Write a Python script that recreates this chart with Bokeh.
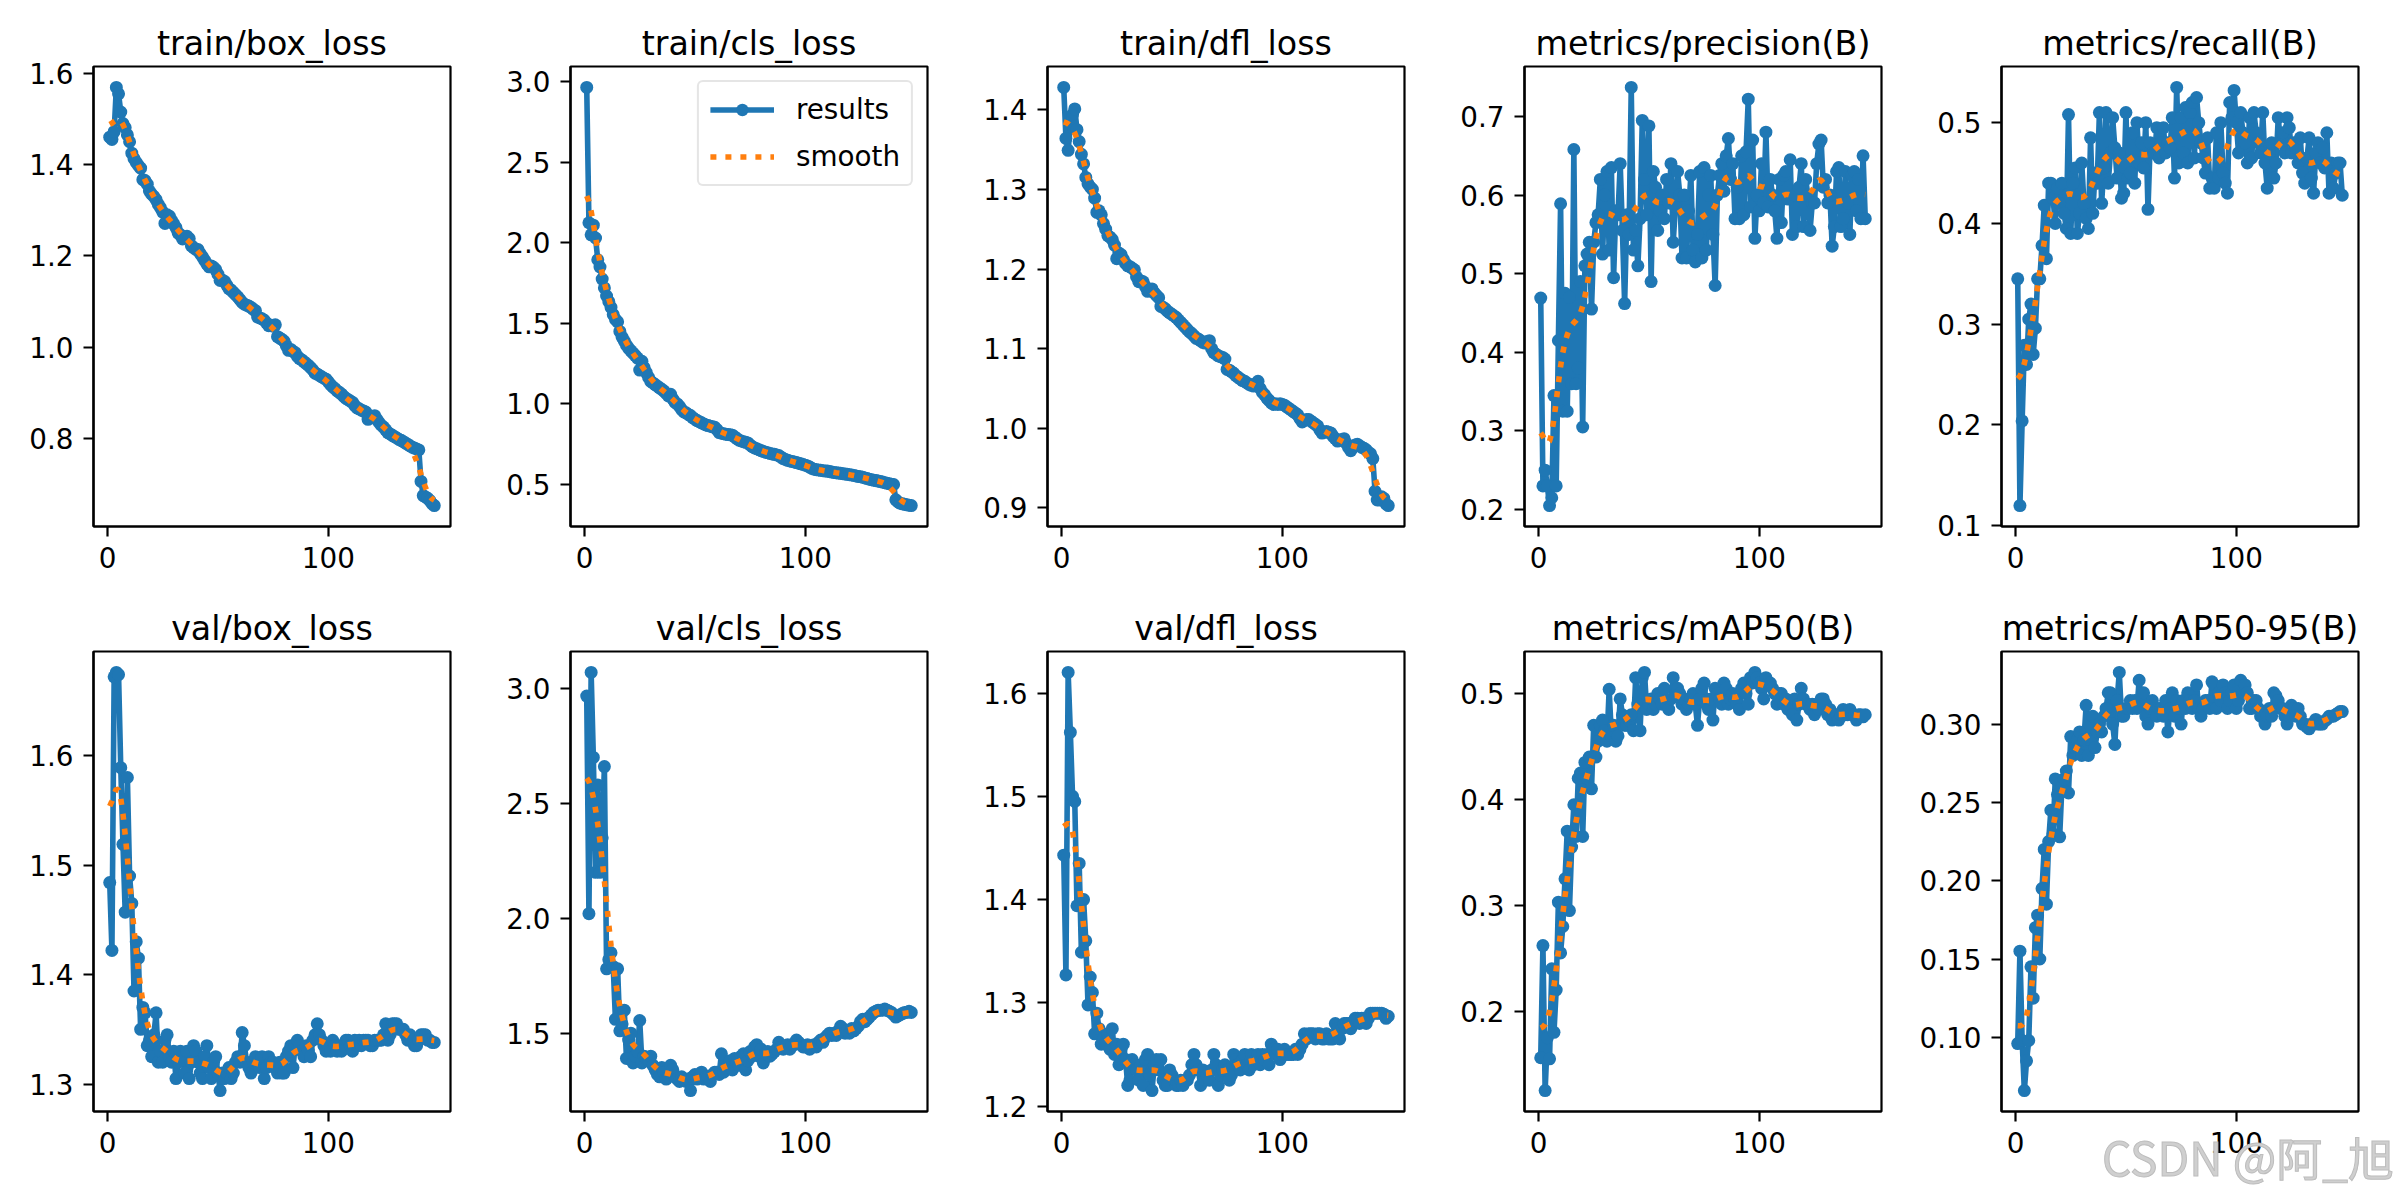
import numpy as np
from bokeh.plotting import figure
from bokeh.models import Range1d, FixedTicker, Legend, LegendItem, Div
from bokeh.layouts import row, column
from bokeh.embed import file_html
from bokeh.resources import INLINE

epochs = list(range(1, 149))

train_box_loss = [
    1.460, 1.455, 1.472, 1.569, 1.555, 1.515, 1.490, 1.481, 1.465, 1.450,
    1.425, 1.413, 1.405, 1.398, 1.392, 1.367, 1.365, 1.357, 1.342, 1.335,
    1.330, 1.323, 1.313, 1.305, 1.296, 1.271, 1.290, 1.287, 1.278, 1.270,
    1.262, 1.250, 1.246, 1.237, 1.240, 1.243, 1.238, 1.222, 1.218, 1.214,
    1.214, 1.205, 1.198, 1.190, 1.182, 1.176, 1.178, 1.175, 1.170, 1.160,
    1.146, 1.147, 1.144, 1.136, 1.128, 1.125, 1.120, 1.115, 1.110, 1.104,
    1.098, 1.094, 1.092, 1.090, 1.087, 1.083, 1.080, 1.066, 1.064, 1.062,
    1.059, 1.053, 1.047, 1.048, 1.046, 1.049, 1.023, 1.020, 1.017, 1.013,
    1.003, 0.993, 0.995, 0.991, 0.988, 0.980, 0.975, 0.972, 0.968, 0.964,
    0.960, 0.955, 0.950, 0.943, 0.941, 0.938, 0.935, 0.932, 0.930, 0.924,
    0.918, 0.913, 0.909, 0.904, 0.901, 0.897, 0.892, 0.888, 0.885, 0.882,
    0.879, 0.872, 0.867, 0.865, 0.862, 0.860, 0.858, 0.842, 0.845, 0.848,
    0.850, 0.842, 0.835, 0.829, 0.825, 0.819, 0.813, 0.810, 0.807, 0.804,
    0.801, 0.798, 0.796, 0.793, 0.790, 0.787, 0.784, 0.781, 0.779, 0.777,
    0.775, 0.706, 0.675, 0.672, 0.669, 0.664, 0.657, 0.653]

train_cls_loss = [
    2.965, 2.125, 2.050, 2.110, 2.030, 1.895, 1.850, 1.775, 1.720, 1.670,
    1.635, 1.600, 1.555, 1.525, 1.510, 1.450, 1.415, 1.390, 1.365, 1.345,
    1.330, 1.315, 1.300, 1.285, 1.210, 1.265, 1.225, 1.195, 1.165, 1.140,
    1.130, 1.120, 1.110, 1.100, 1.090, 1.080, 1.065, 1.050, 1.060, 1.030,
    1.010, 1.000, 0.985, 0.965, 0.950, 0.945, 0.935, 0.928, 0.915, 0.905,
    0.897, 0.890, 0.883, 0.876, 0.870, 0.866, 0.862, 0.858, 0.855, 0.840,
    0.822, 0.818, 0.815, 0.812, 0.810, 0.808, 0.806, 0.795, 0.785, 0.775,
    0.770, 0.766, 0.762, 0.758, 0.745, 0.735, 0.727, 0.722, 0.716, 0.710,
    0.705, 0.700, 0.697, 0.693, 0.690, 0.687, 0.683, 0.680, 0.670, 0.661,
    0.655, 0.650, 0.646, 0.643, 0.640, 0.636, 0.632, 0.628, 0.624, 0.620,
    0.615, 0.608, 0.600, 0.595, 0.592, 0.590, 0.588, 0.586, 0.584, 0.583,
    0.580, 0.577, 0.575, 0.573, 0.571, 0.569, 0.567, 0.565, 0.563, 0.561,
    0.559, 0.556, 0.553, 0.550, 0.548, 0.545, 0.541, 0.537, 0.533, 0.530,
    0.527, 0.524, 0.521, 0.518, 0.515, 0.511, 0.508, 0.505, 0.502, 0.500,
    0.405, 0.392, 0.383, 0.380, 0.377, 0.374, 0.371, 0.369]

train_dfl_loss = [
    1.428, 1.364, 1.349, 1.382, 1.394, 1.401, 1.375, 1.360, 1.344, 1.332,
    1.315, 1.307, 1.303, 1.300, 1.289, 1.271, 1.273, 1.268, 1.257, 1.250,
    1.242, 1.240, 1.237, 1.230, 1.213, 1.220, 1.218, 1.212, 1.207, 1.204,
    1.203, 1.201, 1.199, 1.190, 1.184, 1.185, 1.184, 1.178, 1.172, 1.174,
    1.175, 1.170, 1.167, 1.164, 1.153, 1.152, 1.150, 1.147, 1.145, 1.143,
    1.141, 1.139, 1.136, 1.133, 1.130, 1.127, 1.124, 1.121, 1.119, 1.116,
    1.113, 1.112, 1.110, 1.108, 1.107, 1.109, 1.110, 1.100, 1.095, 1.093,
    1.091, 1.090, 1.089, 1.087, 1.074, 1.073, 1.071, 1.069, 1.066, 1.064,
    1.062, 1.060, 1.059, 1.057, 1.055, 1.054, 1.053, 1.056, 1.059, 1.050,
    1.045, 1.042, 1.038, 1.035, 1.032, 1.030, 1.031, 1.030, 1.031, 1.030,
    1.029, 1.027, 1.025, 1.023, 1.021, 1.019, 1.017, 1.012, 1.008, 1.010,
    1.011, 1.011, 1.009, 1.007, 1.005, 1.003, 0.998, 0.994, 0.995, 0.996,
    0.995, 0.994, 0.990, 0.987, 0.984, 0.985, 0.986, 0.987, 0.981, 0.976,
    0.972, 0.976, 0.979, 0.980, 0.978, 0.976, 0.975, 0.973, 0.970, 0.968,
    0.962, 0.921, 0.910, 0.910, 0.914, 0.912, 0.905, 0.903]

precision = [
    0.469, 0.230, 0.250, 0.230, 0.205, 0.215, 0.345, 0.230, 0.415, 0.589,
    0.325, 0.475, 0.325, 0.470, 0.360, 0.658, 0.360, 0.380, 0.490, 0.305,
    0.510, 0.525, 0.540, 0.455, 0.540, 0.565, 0.575, 0.620, 0.525, 0.600,
    0.630, 0.530, 0.635, 0.495, 0.580, 0.575, 0.640, 0.555, 0.462, 0.575,
    0.550, 0.737, 0.530, 0.555, 0.510, 0.570, 0.695, 0.620, 0.575, 0.688,
    0.490, 0.630, 0.610, 0.555, 0.580, 0.600, 0.570, 0.620, 0.590, 0.640,
    0.540, 0.585, 0.630, 0.600, 0.520, 0.600, 0.520, 0.580, 0.625, 0.530,
    0.515, 0.550, 0.630, 0.520, 0.635, 0.530, 0.600, 0.625, 0.550, 0.485,
    0.600, 0.625, 0.640, 0.605, 0.650, 0.672, 0.620, 0.640, 0.570, 0.610,
    0.570, 0.650, 0.575, 0.655, 0.722, 0.585, 0.670, 0.545, 0.600, 0.580,
    0.640, 0.590, 0.680, 0.585, 0.620, 0.600, 0.580, 0.545, 0.620, 0.565,
    0.625, 0.630, 0.595, 0.645, 0.550, 0.600, 0.560, 0.610, 0.640, 0.560,
    0.620, 0.600, 0.555, 0.590, 0.590, 0.640, 0.665, 0.670, 0.610, 0.620,
    0.590, 0.600, 0.535, 0.560, 0.630, 0.635, 0.560, 0.570, 0.630, 0.590,
    0.550, 0.625, 0.630, 0.580, 0.620, 0.570, 0.650, 0.570]

recall = [
    0.345, 0.120, 0.204, 0.279, 0.260, 0.305, 0.320, 0.270, 0.296, 0.345,
    0.345, 0.378, 0.418, 0.365, 0.440, 0.440, 0.425, 0.400, 0.435, 0.420,
    0.440, 0.410, 0.395, 0.508, 0.390, 0.440, 0.455, 0.390, 0.410, 0.460,
    0.420, 0.405, 0.395, 0.485, 0.410, 0.450, 0.440, 0.510, 0.420, 0.455,
    0.510, 0.440, 0.470, 0.505, 0.475, 0.445, 0.470, 0.425, 0.430, 0.510,
    0.445, 0.450, 0.490, 0.440, 0.500, 0.460, 0.480, 0.455, 0.500, 0.414,
    0.480, 0.470, 0.470, 0.495, 0.465, 0.480, 0.495, 0.470, 0.480, 0.475,
    0.505, 0.445, 0.535, 0.460, 0.505, 0.470, 0.515, 0.460, 0.510, 0.520,
    0.465, 0.525, 0.500, 0.480, 0.465, 0.450, 0.485, 0.435, 0.445, 0.435,
    0.490, 0.445, 0.500, 0.450, 0.440, 0.430, 0.520, 0.505, 0.532, 0.500,
    0.470, 0.510, 0.490, 0.480, 0.460, 0.505, 0.465, 0.510, 0.490, 0.480,
    0.470, 0.510, 0.460, 0.435, 0.470, 0.480, 0.445, 0.460, 0.505, 0.480,
    0.490, 0.470, 0.505, 0.495, 0.470, 0.480, 0.475, 0.460, 0.485, 0.450,
    0.440, 0.465, 0.485, 0.445, 0.430, 0.470, 0.480, 0.460, 0.475, 0.455,
    0.490, 0.430, 0.460, 0.435, 0.450, 0.460, 0.460, 0.428]

val_box_loss = [
    1.484, 1.422, 1.672, 1.676, 1.674, 1.589, 1.519, 1.457, 1.580, 1.490,
    1.465, 1.385, 1.430, 1.415, 1.350, 1.370, 1.365, 1.335, 1.340, 1.325,
    1.345, 1.365, 1.320, 1.330, 1.320, 1.340, 1.345, 1.325, 1.320, 1.330,
    1.305, 1.320, 1.330, 1.325, 1.310, 1.330, 1.305, 1.320, 1.335, 1.330,
    1.320, 1.310, 1.305, 1.325, 1.335, 1.315, 1.305, 1.320, 1.325, 1.310,
    1.294, 1.310, 1.305, 1.310, 1.315, 1.305, 1.310, 1.320, 1.325, 1.320,
    1.347, 1.335, 1.320, 1.315, 1.310, 1.320, 1.325, 1.320, 1.315, 1.325,
    1.305, 1.315, 1.325, 1.320, 1.320, 1.315, 1.310, 1.320, 1.310, 1.310,
    1.325, 1.330, 1.335, 1.315, 1.335, 1.340, 1.335, 1.330, 1.325, 1.335,
    1.330, 1.325, 1.340, 1.345, 1.355, 1.345, 1.340, 1.335, 1.330, 1.335,
    1.330, 1.340, 1.335, 1.330, 1.335, 1.330, 1.335, 1.340, 1.340, 1.335,
    1.330, 1.340, 1.335, 1.340, 1.335, 1.340, 1.340, 1.340, 1.335, 1.335,
    1.340, 1.340, 1.340, 1.340, 1.345, 1.355, 1.340, 1.345, 1.355, 1.355,
    1.355, 1.350, 1.350, 1.350, 1.345, 1.340, 1.345, 1.340, 1.335, 1.335,
    1.340, 1.345, 1.345, 1.345, 1.340, 1.340, 1.338, 1.338]

val_cls_loss = [
    2.967, 2.020, 3.070, 2.700, 2.200, 2.580, 2.200, 2.350, 2.660, 1.780,
    1.820, 1.850, 1.790, 1.560, 1.780, 1.510, 1.540, 1.600, 1.390, 1.470,
    1.500, 1.370, 1.400, 1.420, 1.555, 1.370, 1.400, 1.390, 1.380, 1.400,
    1.360, 1.340, 1.320, 1.310, 1.350, 1.330, 1.300, 1.310, 1.360, 1.340,
    1.310, 1.300, 1.290, 1.310, 1.300, 1.290, 1.300, 1.250, 1.310, 1.320,
    1.300, 1.310, 1.330, 1.300, 1.310, 1.310, 1.290, 1.320, 1.330, 1.330,
    1.320, 1.410, 1.330, 1.350, 1.360, 1.380, 1.340, 1.390, 1.370, 1.360,
    1.400, 1.410, 1.340, 1.380, 1.420, 1.400, 1.440, 1.450, 1.400, 1.430,
    1.370, 1.410, 1.420, 1.400, 1.410, 1.420, 1.430, 1.460, 1.440, 1.430,
    1.440, 1.450, 1.430, 1.450, 1.450, 1.470, 1.460, 1.450, 1.440, 1.440,
    1.450, 1.430, 1.440, 1.450, 1.440, 1.460, 1.470, 1.460, 1.480, 1.490,
    1.500, 1.490, 1.500, 1.490, 1.510, 1.530, 1.520, 1.500, 1.510, 1.500,
    1.520, 1.510, 1.520, 1.530, 1.550, 1.560, 1.550, 1.560, 1.570, 1.580,
    1.590, 1.595, 1.600, 1.600, 1.600, 1.605, 1.600, 1.595, 1.590, 1.580,
    1.570, 1.575, 1.580, 1.585, 1.590, 1.590, 1.595, 1.590]

val_dfl_loss = [
    1.443, 1.327, 1.620, 1.562, 1.500, 1.495, 1.394, 1.435, 1.349, 1.400,
    1.360, 1.298, 1.325, 1.310, 1.270, 1.290, 1.275, 1.260, 1.265, 1.260,
    1.270, 1.255, 1.275, 1.250, 1.260, 1.240, 1.255, 1.260, 1.245, 1.220,
    1.225, 1.245, 1.240, 1.235, 1.225, 1.240, 1.220, 1.245, 1.250, 1.230,
    1.215, 1.240, 1.245, 1.235, 1.245, 1.225, 1.220, 1.220, 1.235, 1.230,
    1.225, 1.220, 1.220, 1.225, 1.220, 1.225, 1.225, 1.230, 1.240, 1.250,
    1.240, 1.235, 1.220, 1.235, 1.225, 1.230, 1.225, 1.235, 1.250, 1.240,
    1.220, 1.230, 1.235, 1.240, 1.235, 1.225, 1.230, 1.250, 1.245, 1.240,
    1.235, 1.245, 1.250, 1.240, 1.235, 1.250, 1.240, 1.245, 1.250, 1.240,
    1.250, 1.245, 1.250, 1.240, 1.260, 1.255, 1.250, 1.255, 1.245, 1.250,
    1.255, 1.250, 1.250, 1.250, 1.250, 1.255, 1.250, 1.255, 1.260, 1.270,
    1.265, 1.270, 1.270, 1.270, 1.265, 1.270, 1.270, 1.265, 1.265, 1.270,
    1.265, 1.265, 1.265, 1.280, 1.275, 1.265, 1.275, 1.280, 1.280, 1.280,
    1.275, 1.280, 1.285, 1.285, 1.280, 1.285, 1.285, 1.280, 1.285, 1.290,
    1.290, 1.290, 1.290, 1.290, 1.290, 1.289, 1.285, 1.287]

map50 = [
    0.156, 0.262, 0.125, 0.175, 0.155, 0.240, 0.180, 0.220, 0.303, 0.255,
    0.280, 0.325, 0.370, 0.295, 0.355, 0.395, 0.365, 0.420, 0.425, 0.365,
    0.435, 0.420, 0.440, 0.410, 0.470, 0.440, 0.455, 0.470, 0.475, 0.465,
    0.455, 0.504, 0.460, 0.470, 0.455, 0.460, 0.495, 0.480, 0.470, 0.470,
    0.475, 0.480, 0.465, 0.515, 0.490, 0.465, 0.515, 0.520, 0.485, 0.490,
    0.495, 0.485, 0.490, 0.500, 0.495, 0.490, 0.505, 0.490, 0.485, 0.495,
    0.515, 0.500, 0.505, 0.500, 0.490, 0.495, 0.485, 0.490, 0.495, 0.500,
    0.490, 0.470, 0.495, 0.505, 0.510, 0.490, 0.485, 0.495, 0.475, 0.505,
    0.500, 0.495, 0.490, 0.510, 0.505, 0.490, 0.495, 0.500, 0.495, 0.490,
    0.485, 0.505, 0.510, 0.500, 0.490, 0.515, 0.510, 0.520, 0.515, 0.510,
    0.505, 0.495, 0.515, 0.510, 0.510, 0.505, 0.500, 0.490, 0.500, 0.500,
    0.490, 0.495, 0.485, 0.490, 0.480, 0.495, 0.475, 0.490, 0.505, 0.495,
    0.490, 0.490, 0.485, 0.490, 0.480, 0.490, 0.485, 0.495, 0.495, 0.490,
    0.480, 0.485, 0.475, 0.480, 0.480, 0.475, 0.480, 0.485, 0.480, 0.480,
    0.485, 0.480, 0.480, 0.475, 0.480, 0.480, 0.478, 0.480]

map50_95 = [
    0.096, 0.155, 0.098, 0.066, 0.085, 0.098, 0.145, 0.125, 0.170, 0.178,
    0.150, 0.195, 0.220, 0.185, 0.225, 0.245, 0.230, 0.265, 0.255, 0.228,
    0.260, 0.265, 0.270, 0.256, 0.292, 0.280, 0.285, 0.290, 0.295, 0.280,
    0.290, 0.312, 0.280, 0.290, 0.305, 0.285, 0.295, 0.300, 0.295, 0.305,
    0.310, 0.320, 0.320, 0.300, 0.287, 0.315, 0.333, 0.305, 0.305, 0.310,
    0.310, 0.315, 0.310, 0.315, 0.310, 0.328, 0.315, 0.320, 0.305, 0.300,
    0.310, 0.315, 0.310, 0.305, 0.310, 0.310, 0.305, 0.315, 0.295, 0.310,
    0.320, 0.305, 0.315, 0.310, 0.300, 0.315, 0.310, 0.320, 0.315, 0.310,
    0.315, 0.325, 0.310, 0.305, 0.310, 0.315, 0.315, 0.310, 0.327, 0.325,
    0.310, 0.320, 0.315, 0.325, 0.320, 0.310, 0.315, 0.320, 0.325, 0.310,
    0.315, 0.328, 0.320, 0.325, 0.320, 0.310, 0.310, 0.315, 0.315, 0.310,
    0.305, 0.305, 0.300, 0.305, 0.310, 0.305, 0.320, 0.318, 0.315, 0.310,
    0.310, 0.305, 0.300, 0.305, 0.312, 0.310, 0.305, 0.310, 0.305, 0.300,
    0.300, 0.298, 0.297, 0.300, 0.300, 0.303, 0.300, 0.300, 0.300, 0.302,
    0.303, 0.305, 0.305, 0.305, 0.306, 0.307, 0.308, 0.308]

titles = ["train/box_loss", "train/cls_loss", "train/dfl_loss", "metrics/precision(B)", "metrics/recall(B)",
          "val/box_loss", "val/cls_loss", "val/dfl_loss", "metrics/mAP50(B)", "metrics/mAP50-95(B)"]
series = [train_box_loss, train_cls_loss, train_dfl_loss, precision, recall,
          val_box_loss, val_cls_loss, val_dfl_loss, map50, map50_95]
y_tick_labels = [
    ["0.8", "1.0", "1.2", "1.4", "1.6"],
    ["0.5", "1.0", "1.5", "2.0", "2.5", "3.0"],
    ["0.9", "1.0", "1.1", "1.2", "1.3", "1.4"],
    ["0.2", "0.3", "0.4", "0.5", "0.6", "0.7"],
    ["0.1", "0.2", "0.3", "0.4", "0.5"],
    ["1.3", "1.4", "1.5", "1.6"],
    ["1.5", "2.0", "2.5", "3.0"],
    ["1.2", "1.3", "1.4", "1.5", "1.6"],
    ["0.2", "0.3", "0.4", "0.5"],
    ["0.10", "0.15", "0.20", "0.25", "0.30"],
]
x_tick_labels = ["0", "100"]
legend_labels = ["results", "smooth"]
watermark = "CSDN @阿_旭"

for s in series:
    assert len(s) == len(epochs), len(s)


def gaussian_smooth(y, sigma=3.0):
    radius = int(4.0 * sigma + 0.5)
    k = np.exp(-0.5 * (np.arange(-radius, radius + 1) / sigma) ** 2)
    k /= k.sum()
    ypad = np.pad(np.asarray(y, dtype=float), radius, mode="symmetric")
    return np.convolve(ypad, k, mode="valid")


BLUE = "#1f77b4"
ORANGE = "#ff7f0e"
FONT = "DejaVu Sans"
FRAME_W = 357
FRAME_H = 460


def make_panel(i):
    col = i % 5
    rowi = i // 5
    y = series[i]
    ys = gaussian_smooth(y)
    width = 477 if col < 4 else 476
    top = 66
    bottom = 59 if rowi == 0 else 70
    height = top + FRAME_H + bottom
    x0, x1 = min(epochs), max(epochs)
    xm = 0.05 * (x1 - x0)
    ymin, ymax = min(y), max(y)
    ym = 0.05 * (ymax - ymin)
    p = figure(width=width, height=height, output_backend="svg", toolbar_location=None,
               x_range=Range1d(x0 - xm, x1 + xm), y_range=Range1d(ymin - ym, ymax + ym),
               min_border_left=93, min_border_right=width - 93 - FRAME_W,
               min_border_top=top, min_border_bottom=bottom,
               background_fill_color="white", border_fill_color="white")
    p.title.text = titles[i]
    p.title.align = "center"
    p.title.text_font = FONT
    p.title.text_font_size = "33.3px"
    p.title.text_font_style = "normal"
    p.title.text_color = "black"
    p.title.standoff = 7
    p.grid.visible = False
    p.outline_line_color = "black"
    p.outline_line_width = 2.2
    p.outline_line_alpha = 1.0
    yt = [float(t) for t in y_tick_labels[i]]
    xt = [float(t) for t in x_tick_labels]
    p.xaxis.ticker = FixedTicker(ticks=xt)
    p.yaxis.ticker = FixedTicker(ticks=yt)
    p.xaxis.major_label_overrides = {v: s for v, s in zip(xt, x_tick_labels)}
    p.yaxis.major_label_overrides = {v: s for v, s in zip(yt, y_tick_labels[i])}
    for ax in (p.xaxis, p.yaxis):
        ax.axis_line_width = 2.2
        ax.axis_line_color = "black"
        ax.major_tick_line_width = 2.2
        ax.major_tick_line_color = "black"
        ax.major_tick_out = 10
        ax.major_tick_in = 0
        ax.minor_tick_out = 0
        ax.minor_tick_in = 0
        ax.major_label_text_font = FONT
        ax.major_label_text_font_size = "27.8px"
        ax.major_label_text_color = "black"
        ax.major_label_standoff = 10
    r_line = p.line(epochs, y, line_color=BLUE, line_width=5.6, line_join="round")
    r_pts = p.scatter(epochs, y, size=13, fill_color=BLUE, line_color=BLUE, line_width=0)
    r_sm = p.line(epochs, list(ys), line_color=ORANGE, line_width=5.6, line_dash="6 9",
                  line_cap="butt")
    if i == 1:
        leg = Legend(items=[LegendItem(label=legend_labels[0], renderers=[r_line, r_pts]),
                            LegendItem(label=legend_labels[1], renderers=[r_sm])],
                     location="top_right", margin=14, padding=11, spacing=14,
                     glyph_width=64, glyph_height=31, label_height=31, label_standoff=22,
                     label_text_font=FONT, label_text_font_size="27.8px",
                     label_text_color="black",
                     border_line_color="#cccccc", border_line_width=2.8,
                     background_fill_color="white", background_fill_alpha=0.8)
        try:
            leg.border_radius = 6
        except Exception:
            pass
        p.add_layout(leg)
    return p


figs = [make_panel(i) for i in range(10)]

# watermark drawn over the page's bottom-right corner
wm = Div(text=watermark, width=300, height=50,
         styles={"position": "fixed", "left": "2097px", "top": "1128px",
                 "z-index": "10", "font-family": "'Noto Sans CJK SC', sans-serif",
                 "font-size": "46px", "line-height": "46px", "color": "#cfcfcf",
                 "white-space": "nowrap", "pointer-events": "none",
                 "-webkit-text-stroke": "1px #bdbdbd"})

layout = column(row(*figs[:5]), row(*figs[5:]), wm)

open("out.html", "w").write(file_html(layout, INLINE))
